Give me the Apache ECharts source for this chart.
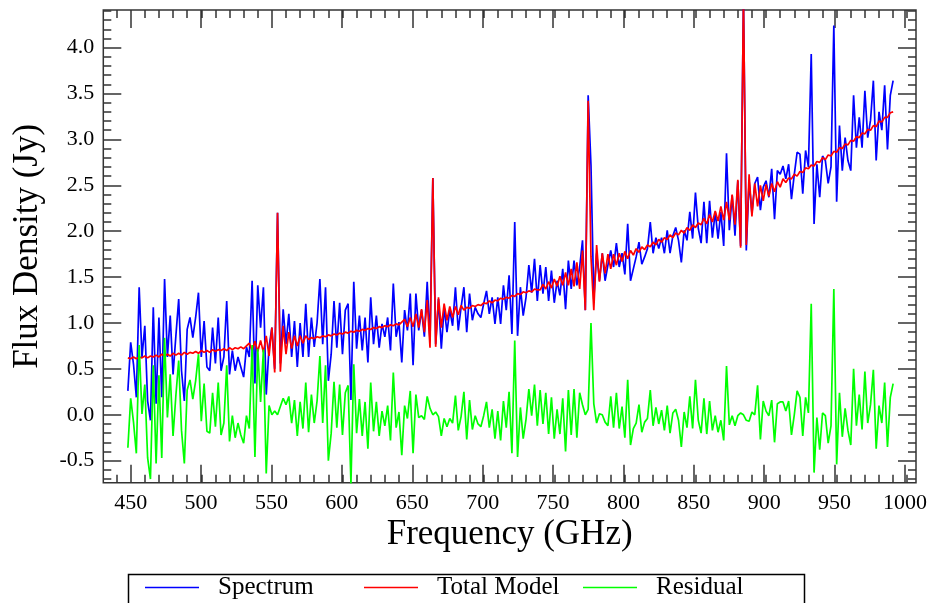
<!DOCTYPE html>
<html><head><meta charset="utf-8">
<script src="https://cdn.jsdelivr.net/npm/echarts@6/dist/echarts.min.js"></script>
<style>html,body{margin:0;padding:0;background:#fff}#c{width:930px;height:603px}</style>
</head><body><div id="c"></div>
<script>
// Sampling grid of the spectrum (GHz)
const freqStart = 448, freqStep = 2;

const spectrum = [
0.26,0.79,0.55,0.19,1.39,0.63,0.97,0.15,-0.06,1.17,
0.12,1.06,0.19,1.48,0.63,1.08,0.44,0.86,1.26,0.48,
0.15,0.93,1.06,0.84,1.06,1.33,0.63,1.02,0.52,0.48,
0.95,0.56,1.06,0.48,0.63,1.24,0.44,0.70,0.48,0.63,
0.52,0.41,0.74,0.63,1.46,0.34,1.41,0.95,1.39,0.22,
0.74,0.95,0.50,2.20,0.56,1.15,0.77,1.10,0.63,1.02,
0.52,1.00,0.63,1.21,0.63,1.06,0.74,1.00,1.48,0.77,
1.39,0.37,0.66,1.24,0.73,1.22,0.66,1.14,1.21,0.16,
1.45,0.72,1.08,0.70,1.06,0.57,1.28,0.77,1.08,0.73,
0.99,0.85,1.06,0.70,1.43,0.85,1.01,0.57,1.14,0.92,
1.32,0.54,1.32,0.92,1.14,0.85,1.45,0.80,2.58,0.77,
1.26,0.72,1.17,0.90,1.14,0.97,1.39,0.92,1.17,1.39,
0.90,1.32,1.03,1.17,1.10,1.06,1.21,1.35,1.10,1.28,
0.99,1.28,0.99,1.41,1.14,1.52,0.88,2.10,0.86,1.39,
1.08,1.28,1.63,1.33,1.70,1.24,1.63,1.32,1.61,1.24,
1.57,1.22,1.46,1.30,1.59,1.15,1.68,1.37,1.68,1.41,
1.61,1.90,1.14,3.48,2.72,1.26,1.76,1.46,1.76,1.46,
1.63,1.79,1.61,1.87,1.61,1.76,1.53,2.08,1.46,1.59,
1.72,1.88,1.64,1.72,1.81,2.10,1.76,1.93,1.81,1.93,
1.76,2.01,1.76,1.95,2.04,1.90,1.66,2.01,1.90,2.21,
1.92,2.42,2.03,1.87,2.32,1.87,2.33,1.93,2.21,1.92,
2.21,1.84,2.85,2.01,2.39,1.95,2.55,1.84,4.55,1.79,
2.55,2.19,2.52,2.59,2.23,2.48,2.55,2.37,2.68,2.13,
2.66,2.62,2.71,2.57,2.73,2.35,2.62,2.86,2.84,2.41,
2.88,2.70,3.93,2.08,2.73,2.37,2.82,2.77,2.52,2.70,
4.24,2.32,3.15,2.66,3.02,2.77,2.66,3.48,2.91,3.24,
2.91,3.53,3.02,3.21,3.64,2.77,3.30,3.10,3.59,2.89,
3.48,3.64];

const totalModel = [
0.62,0.61,0.63,0.61,0.63,0.62,0.64,0.62,0.64,0.63,
0.65,0.63,0.66,0.64,0.66,0.64,0.67,0.65,0.67,0.65,
0.68,0.66,0.68,0.67,0.69,0.67,0.70,0.68,0.70,0.68,
0.71,0.69,0.71,0.70,0.72,0.70,0.73,0.71,0.73,0.72,
0.74,0.72,0.75,0.78,0.70,0.80,0.69,0.81,0.68,0.86,
0.64,0.95,0.46,2.20,0.47,0.97,0.66,0.90,0.72,0.86,
0.75,0.86,0.78,0.86,0.82,0.84,0.83,0.85,0.84,0.86,
0.85,0.87,0.86,0.88,0.87,0.89,0.88,0.90,0.89,0.91,
0.90,0.92,0.91,0.93,0.92,0.94,0.93,0.95,0.94,0.96,
0.95,0.97,0.96,0.98,0.97,0.99,0.98,1.01,1.04,0.96,
1.06,0.96,1.10,0.95,1.15,0.90,1.25,0.73,2.58,0.74,
1.28,0.95,1.21,1.03,1.18,1.06,1.18,1.09,1.19,1.14,
1.17,1.16,1.19,1.18,1.20,1.19,1.22,1.21,1.24,1.22,
1.25,1.24,1.27,1.26,1.28,1.27,1.30,1.29,1.32,1.31,
1.34,1.33,1.35,1.34,1.37,1.36,1.36,1.42,1.37,1.45,
1.38,1.48,1.40,1.51,1.41,1.55,1.41,1.59,1.40,1.66,
1.37,1.79,1.14,3.42,1.72,1.14,1.85,1.45,1.76,1.54,
1.75,1.59,1.75,1.63,1.76,1.67,1.78,1.70,1.79,1.74,
1.81,1.77,1.83,1.80,1.85,1.83,1.88,1.85,1.91,1.88,
1.93,1.91,1.96,1.93,1.98,1.96,2.01,1.98,2.04,2.01,
2.07,2.04,2.09,2.07,2.14,2.08,2.18,2.10,2.22,2.11,
2.27,2.12,2.32,2.12,2.40,2.07,2.56,1.82,4.55,1.85,
2.62,2.16,2.52,2.27,2.50,2.33,2.51,2.38,2.52,2.43,
2.54,2.48,2.57,2.53,2.58,2.57,2.62,2.60,2.65,2.64,
2.69,2.68,2.72,2.71,2.76,2.75,2.80,2.78,2.83,2.82,
2.87,2.86,2.91,2.90,2.95,2.94,2.99,2.98,3.03,3.02,
3.07,3.06,3.11,3.10,3.15,3.14,3.20,3.19,3.24,3.24,
3.29,3.30];

const residual = [
-0.36,0.18,-0.08,-0.42,0.76,0.01,0.33,-0.47,-0.70,0.54,
-0.53,0.43,-0.47,0.84,-0.03,0.44,-0.23,0.21,0.59,-0.17,
-0.53,0.27,0.38,0.17,0.37,0.66,-0.07,0.34,-0.18,-0.20,
0.24,-0.13,0.35,-0.22,-0.09,0.54,-0.29,-0.01,-0.25,-0.09,
-0.22,-0.31,-0.01,-0.15,0.76,-0.46,0.72,0.14,0.71,-0.64,
0.10,0.00,0.04,0.00,0.09,0.18,0.11,0.20,-0.09,0.16,
-0.23,0.14,-0.15,0.35,-0.19,0.22,-0.09,0.15,0.64,-0.09,
0.54,-0.50,-0.20,0.36,-0.14,0.33,-0.22,0.24,0.32,-0.75,
0.55,-0.20,0.17,-0.23,0.14,-0.37,0.35,-0.18,0.14,-0.23,
0.04,-0.12,0.10,-0.28,0.46,-0.14,0.03,-0.44,0.10,-0.04,
0.26,-0.42,0.22,-0.03,-0.01,-0.05,0.20,0.07,0.00,0.03,
-0.02,-0.23,-0.04,-0.13,-0.04,-0.09,0.21,-0.17,-0.02,0.25,
-0.27,0.16,-0.16,-0.01,-0.10,-0.13,-0.01,0.14,-0.14,0.06,
-0.26,0.04,-0.28,0.15,-0.14,0.25,-0.42,0.81,-0.46,0.08,
-0.26,-0.05,0.28,-0.01,0.33,-0.12,0.27,-0.10,0.24,-0.21,
0.19,-0.26,0.06,-0.21,0.18,-0.40,0.27,-0.22,0.28,-0.25,
0.24,0.11,0.00,0.06,1.00,0.12,-0.09,0.01,0.00,-0.08,
-0.12,0.20,-0.14,0.24,-0.15,0.09,-0.25,0.38,-0.33,-0.15,
-0.09,0.11,-0.19,-0.08,-0.04,0.27,-0.12,0.08,-0.10,0.05,
-0.17,0.10,-0.20,0.02,0.06,-0.06,-0.35,0.03,-0.14,0.20,
-0.15,0.38,-0.06,-0.20,0.18,-0.21,0.15,-0.17,-0.01,-0.19,
-0.06,-0.28,0.53,-0.11,-0.01,-0.12,-0.01,0.02,0.00,-0.06,
-0.07,0.03,0.00,0.32,-0.27,0.15,0.04,-0.01,0.16,-0.30,
0.12,0.14,0.14,0.04,0.15,-0.22,0.00,0.26,0.19,-0.23,
0.19,0.02,1.21,-0.63,-0.03,-0.38,0.02,-0.01,-0.31,-0.12,
1.37,-0.54,0.24,-0.24,0.07,-0.17,-0.33,0.50,-0.12,0.22,
-0.16,0.47,-0.09,0.11,0.49,-0.37,0.10,-0.09,0.35,-0.35,
0.19,0.34];

const seriesNames = ['Spectrum', 'Total Model', 'Residual'];
const seriesColors = ['#0000ff', '#ff0000', '#00ff00'];
const xTitle = 'Frequency (GHz)';
const yTitle = 'Flux Density (Jy)';
const xRange = [430.6, 1006.2];
const yRange = [-0.74, 4.41];
const xMajor = {min: 450, max: 1000, step: 50};
const xMinor = {min: 440, max: 1000, step: 10};
const yMajor = {min: -0.5, max: 4.0, step: 0.5};
const yMinor = {min: -0.7, max: 4.4, step: 0.1};

// ---- layout ----
const FONT = 'Liberation Serif';
const AX = '#333';
const G = {left: 103.3, top: 10, width: 812.7, height: 472.7};
const px = v => G.left + (v - xRange[0]) / (xRange[1] - xRange[0]) * G.width;
const py = v => G.top + (yRange[1] - v) / (yRange[1] - yRange[0]) * G.height;

const pairs = arr => arr.map((v, i) => [freqStart + i * freqStep, v]);

const grids = [
  {left: G.left, top: G.top, width: G.width, height: G.height, show: true, borderColor: AX, borderWidth: 1.5, backgroundColor: 'transparent'},
  {left: px(xMajor.min), width: px(xMajor.max) - px(xMajor.min), top: G.top, height: G.height},
  {left: px(xMinor.min), width: px(xMinor.max) - px(xMinor.min), top: G.top, height: G.height},
  {left: G.left, width: G.width, top: py(yMajor.max), height: py(yMajor.min) - py(yMajor.max)},
  {left: G.left, width: G.width, top: py(yMinor.max), height: py(yMinor.min) - py(yMinor.max)}
];

const hidden = gi => ({type: 'value', gridIndex: gi, show: false, min: 0, max: 1});
const tickAxis = (gi, pos, r, len, labels) => ({
  type: 'value', gridIndex: gi, position: pos, min: r.min, max: r.max, interval: r.step,
  axisLine: {show: false}, splitLine: {show: false},
  axisTick: {show: true, inside: true, length: len, lineStyle: {color: AX, width: 1.5}},
  axisLabel: labels ? Object.assign({show: true, showMinLabel: true, showMaxLabel: true,
    fontFamily: FONT, color: '#000'}, labels) : {show: false}
});

const xAxes = [
  {type: 'value', gridIndex: 0, min: xRange[0], max: xRange[1],
   axisLine: {show: false}, axisTick: {show: false}, axisLabel: {show: false}, splitLine: {show: false},
   name: xTitle, nameLocation: 'middle', nameGap: 35,
   nameTextStyle: {fontFamily: FONT, fontSize: 35, color: '#000'}},
  tickAxis(1, 'bottom', xMajor, 18, {fontSize: 22, margin: 10, formatter: v => String(Math.round(v))}),
  tickAxis(1, 'top', xMajor, 18, null),
  tickAxis(2, 'bottom', xMinor, 8, null),
  tickAxis(2, 'top', xMinor, 8, null),
  hidden(3), hidden(4)
];
const yAxes = [
  {type: 'value', gridIndex: 0, min: yRange[0], max: yRange[1],
   axisLine: {show: false}, axisTick: {show: false}, axisLabel: {show: false}, splitLine: {show: false},
   name: yTitle, nameLocation: 'middle', nameGap: 58,
   nameTextStyle: {fontFamily: FONT, fontSize: 35, color: '#000'}},
  hidden(1), hidden(2),
  tickAxis(3, 'left', yMajor, 18, {fontSize: 22, margin: 9, formatter: v => v.toFixed(1)}),
  tickAxis(3, 'right', yMajor, 18, null),
  tickAxis(4, 'left', yMinor, 8, null),
  tickAxis(4, 'right', yMinor, 8, null)
];

const dataSets = [spectrum, totalModel, residual];
const series = seriesNames.map((n, k) => ({
  name: n, type: 'line', xAxisIndex: 0, yAxisIndex: 0,
  data: pairs(dataSets[k]), symbol: 'none', clip: true,
  lineStyle: {color: seriesColors[k], width: 1.7}, itemStyle: {color: seriesColors[k]},
  z: 2 + k
}));

// legend: one entry per slot, slots evenly spaced inside a framed box
const LEG = {left: 126, top: 572, width: 676, height: 60, firstItem: 145, slot: 219};
const legends = seriesNames.map((n, k) => ({
  data: [n], left: LEG.firstItem + k * LEG.slot, top: LEG.top + 3, padding: 0,
  icon: 'rect', itemWidth: 54, itemHeight: 1.5,
  textStyle: {fontFamily: FONT, fontSize: 25, color: '#000', padding: [0, 0, 0, 14]}
}));

const chart = echarts.init(document.getElementById('c'), null, {renderer: 'canvas'});
chart.setOption({
  animation: false,
  backgroundColor: '#fff',
  grid: grids,
  xAxis: xAxes,
  yAxis: yAxes,
  legend: legends,
  graphic: [{
    type: 'rect', left: LEG.left, top: LEG.top, silent: true,
    shape: {width: LEG.width, height: LEG.height},
    style: {fill: 'none', stroke: '#000', lineWidth: 1.5}
  }],
  series: series
});
</script>
</body></html>
